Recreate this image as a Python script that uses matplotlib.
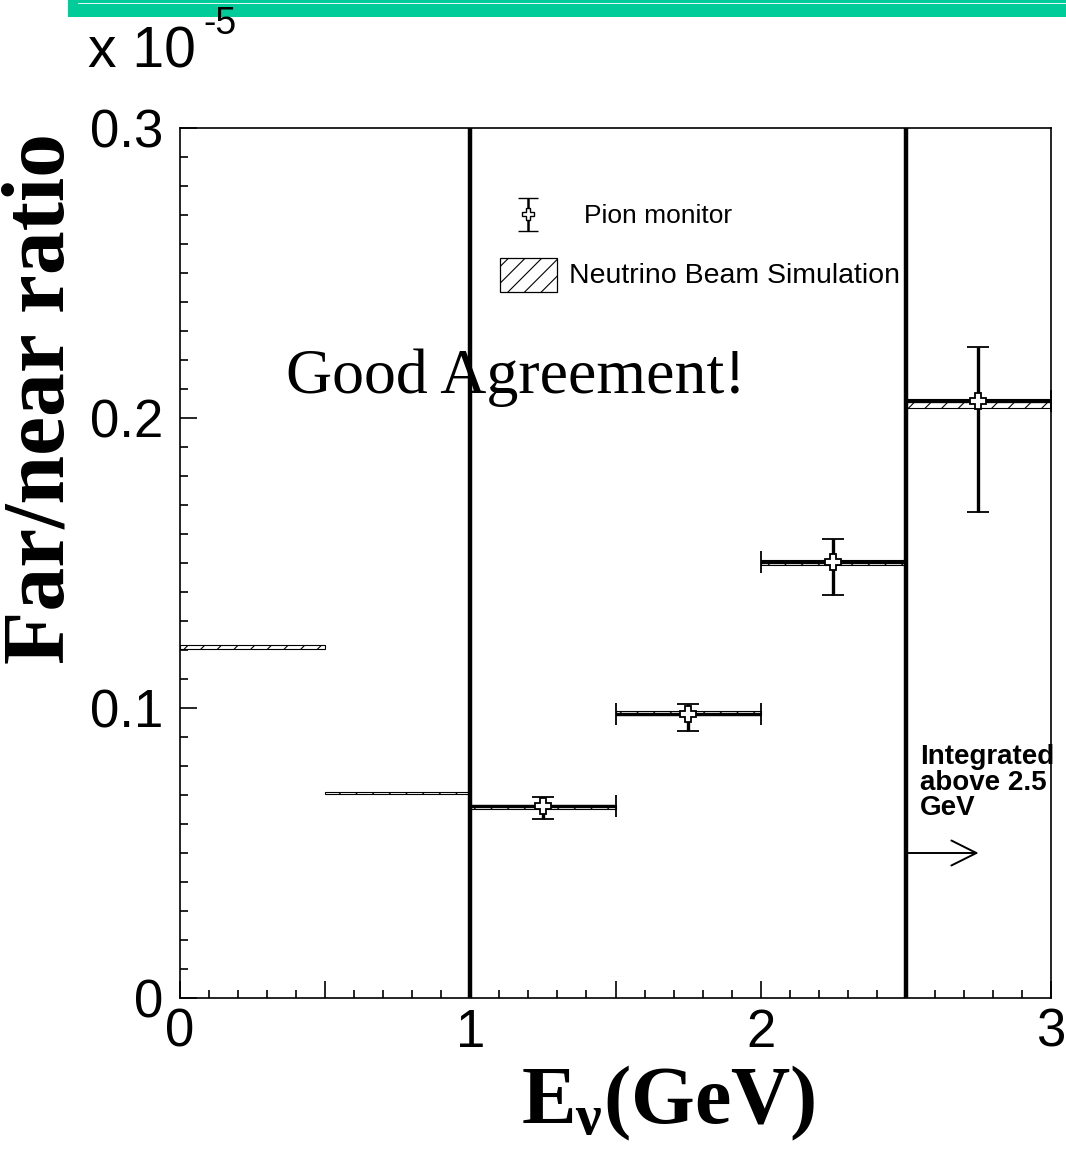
import matplotlib
matplotlib.use("Agg")
import matplotlib.pyplot as plt
import matplotlib.ticker as ticker
from matplotlib.patches import Rectangle
import numpy as np

# simulation bins (far/near ratio, units of 1e-5)
BIN_LO = [0.0, 0.5, 1.0, 1.5, 2.0, 2.5]
BIN_HI = [0.5, 1.0, 1.5, 2.0, 2.5, 3.0]
SIM = [0.1210, 0.0707, 0.0659, 0.0983, 0.1503, 0.2050]
SIM_ERR = [0.0008, 0.0004, 0.0008, 0.0008, 0.0009, 0.0015]

# pion monitor points
PION_X = [1.25, 1.75, 2.25, 2.75]
PION_Y = [0.0662, 0.0980, 0.1503, 0.2057]
PION_UP = [0.0030, 0.0034, 0.0080, 0.0188]
PION_DN = [0.0045, 0.0059, 0.0113, 0.0381]
PION_XERR = [0.25, 0.25, 0.25, 0.25]

SANS = "Liberation Sans"
SERIF = "Liberation Serif"

plt.rcParams["hatch.linewidth"] = 0.8
plt.rcParams["mathtext.fontset"] = "custom"
plt.rcParams["mathtext.rm"] = "Liberation Serif:bold"
plt.rcParams["mathtext.it"] = "Liberation Serif:bold"
plt.rcParams["mathtext.bf"] = "Liberation Serif:bold"

fig = plt.figure(figsize=(10.66, 11.53), dpi=100)
ax = fig.add_axes([180 / 1066, 1 - 998 / 1153, 871 / 1066, 870 / 1153])

# simulation bands
lo = np.array(BIN_LO)
hi = np.array(BIN_HI)
sim = np.array(SIM)
err = np.array(SIM_ERR)
ax.bar(lo, 2 * err, width=hi - lo, bottom=sim - err, align="edge",
       facecolor="white", edgecolor="black", hatch="//", linewidth=0.8, zorder=2)

# pion monitor
ax.errorbar(PION_X, PION_Y, xerr=PION_XERR, yerr=[PION_DN, PION_UP],
            fmt="P", color="black", mfc="white", mec="black", mew=1.3, ms=12,
            elinewidth=2.4, capsize=8, capthick=2.4, zorder=3)

# region separators
ax.axvline(1.0, color="black", lw=3.2, zorder=4)
ax.axvline(2.5, color="black", lw=3.2, zorder=4)

# legend drawn by hand
ax.errorbar([1.20], [0.2703], yerr=[0.0057], fmt="P", color="black", mfc="white",
            mec="black", mew=1.0, ms=8, elinewidth=1.8, capsize=7, capthick=1.8)
ax.add_patch(Rectangle((1.102, 0.2434), 0.197, 0.0118, facecolor="white",
                       edgecolor="black", hatch="//", linewidth=0.9))
ax.text(1.39, 0.2696, "Pion monitor", fontsize=19, family=SANS, va="center", ha="left")
ax.text(1.34, 0.2488, "Neutrino Beam Simulation", fontsize=20.5, family=SANS,
        va="center", ha="left")

ax.text(1.155, 0.2140, "Good Agreement!", fontsize=46, family=SERIF,
        ha="center", va="center")

ax.text(2.55, 0.0875, "Integrated\nabove 2.5\nGeV", fontsize=20, family=SANS,
        fontweight="bold", ha="left", va="top", linespacing=0.98)
ax.annotate("", xy=(2.76, 0.0500), xytext=(2.5, 0.0500),
            arrowprops=dict(arrowstyle="->", lw=1.4, mutation_scale=45))

ax.set_xlim(0, 3)
ax.set_ylim(0, 0.3)

ax.xaxis.set_major_locator(ticker.MultipleLocator(0.5))
ax.xaxis.set_major_formatter(ticker.FuncFormatter(
    lambda v, p: f"{v:.0f}" if abs(v - round(v)) < 1e-9 else ""))
ax.xaxis.set_minor_locator(ticker.MultipleLocator(0.1))
ax.yaxis.set_major_locator(ticker.MultipleLocator(0.1))
ax.yaxis.set_minor_locator(ticker.MultipleLocator(0.01))
ax.yaxis.set_major_formatter(ticker.FuncFormatter(
    lambda v, p: "0" if abs(v) < 1e-9 else f"{v:.1f}"))
ax.tick_params(axis="both", which="both", direction="in", top=False, right=False)
ax.tick_params(axis="x", which="major", length=12, width=1.2, pad=7)
ax.tick_params(axis="x", which="minor", length=6, width=1.2)
ax.tick_params(axis="y", which="major", length=12, width=1.2, pad=12)
ax.tick_params(axis="y", which="minor", length=6, width=1.2)
for lab in ax.get_xticklabels() + ax.get_yticklabels():
    lab.set_fontfamily(SANS)
    lab.set_fontsize(38)
for s in ax.spines.values():
    s.set_linewidth(1.2)

fig.text(42 / 1066, 1 - 398 / 1153, "Far/near ratio", rotation=90, fontsize=63,
         family=SERIF, fontweight="bold", ha="center", va="center")
fig.text(668 / 1066, 1 - 1103 / 1153, r"$E_{\nu}$(GeV)", fontsize=59,
         family=SERIF, fontweight="bold", ha="center", va="center")

fig.text(88 / 1066, 1 - 68 / 1153, "x 10", fontsize=41, family=SANS, ha="left", va="baseline")
fig.text(203 / 1066, 1 - 34 / 1153, "-5", fontsize=27, family=SANS, ha="left", va="baseline")

# frame edge of the title box above
fig.patches.append(Rectangle((68 / 1066, 1 - 17 / 1153), 1.0, 17 / 1153,
                             transform=fig.transFigure, facecolor="#00cc99",
                             edgecolor="none"))
fig.patches.append(Rectangle((78 / 1066, 1 - 4 / 1153), 1.0, 1.5 / 1153,
                             transform=fig.transFigure, facecolor="#e0f7ef",
                             edgecolor="none"))

fig.savefig("out.png", dpi=100)
